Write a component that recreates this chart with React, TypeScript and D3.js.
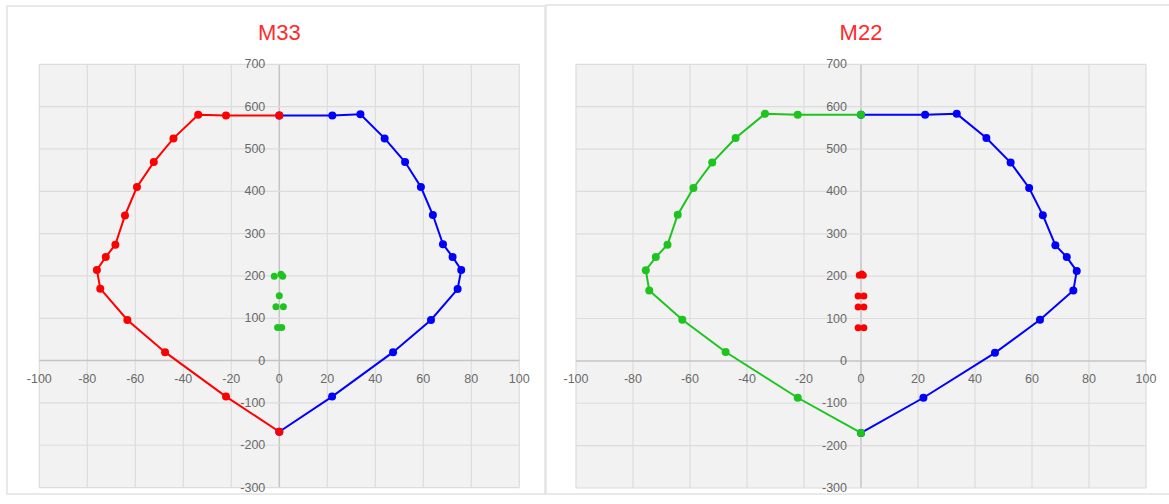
import React, { useEffect, useRef } from "react";
import * as d3 from "d3";

const xTicks = [-100, -80, -60, -40, -20, 0, 20, 40, 60, 80, 100];
const yTicks = [-300, -200, -100, 0, 100, 200, 300, 400, 500, 600, 700];

// M33 chart
const m33NegX = [0, -22.2, -33.8, -44.1, -52.3, -59.3, -64.3, -68.3, -72.3, -76, -74.6, -63.3, -47.6, -22.2, 0];
const m33NegY = [579, 579, 581, 525, 469, 410, 343, 274, 245, 214, 170, 96, 20, -85, -168];
const m33PosX = [0, 22, 47.4, 63.2, 74.3, 75.8, 72.2, 68.2, 64, 59, 52.4, 43.9, 33.8, 22.1, 0];
const m33PosY = [-168, -85, 20, 96, 169, 214, 245, 275, 344, 410, 469, 525, 582, 579, 579];
const m33LoadX = [-2.1, 0.7, 1.4, 0, -1.4, 1.7, -0.7, 1];
const m33LoadY = [199, 204, 199, 153, 127, 127, 78, 78];

// M22 chart
const m22NegX = [0, -22.2, -33.7, -44, -52.2, -58.8, -64.3, -67.9, -72, -75.5, -74.3, -62.7, -47.5, -22.2, 0];
const m22NegY = [581, 581, 583, 526, 468, 408, 345, 274, 245, 214, 166, 97, 21, -87, -170];
const m22PosX = [0, 21.9, 47, 62.8, 74.5, 75.7, 72.2, 68.2, 63.8, 59, 52.5, 44, 33.6, 22.5, 0];
const m22PosY = [-170, -87, 19, 97, 166, 212, 245, 273, 344, 408, 468, 526, 583, 581, 581];
const m22LoadX = [-0.6, 0.3, 0.8, -1, 1, -1, 1, -1, 1];
const m22LoadY = [202, 205, 202, 153, 153, 127, 127, 78, 78];

const zip = (xs: number[], ys: number[]) => xs.map((x, i) => [x, ys[i]] as [number, number]);

function drawChart(svg: any, cfg: any) {
  const g = svg.append("g");

  g.append("rect")
    .attr("x", cfg.panel[0]).attr("y", cfg.panel[1])
    .attr("width", cfg.panel[2]).attr("height", cfg.panel[3])
    .attr("fill", "#fff").attr("stroke", "#e2e2e2").attr("stroke-width", 1.5);

  const x = d3.scaleLinear().domain([-100, 100]).range([cfg.left, cfg.right]);
  const y = d3.scaleLinear().domain([-300, 700]).range([cfg.bottom, cfg.top]);

  g.append("rect")
    .attr("x", cfg.left).attr("y", cfg.top)
    .attr("width", cfg.right - cfg.left).attr("height", cfg.bottom - cfg.top)
    .attr("fill", "#f2f2f2");

  g.selectAll(".vgrid").data(xTicks).enter().append("line")
    .attr("x1", (d) => x(d)).attr("x2", (d) => x(d))
    .attr("y1", cfg.top).attr("y2", cfg.bottom)
    .attr("stroke", (d) => (d === 0 ? "#c4c4c4" : "#dcdcdc"))
    .attr("stroke-width", (d) => (d === 0 ? 1.5 : 1.2));

  g.selectAll(".hgrid").data(yTicks).enter().append("line")
    .attr("x1", cfg.left).attr("x2", cfg.right)
    .attr("y1", (d) => y(d)).attr("y2", (d) => y(d))
    .attr("stroke", (d) => (d === 0 ? "#c4c4c4" : "#dcdcdc"))
    .attr("stroke-width", (d) => (d === 0 ? 1.5 : 1.2));

  const font = "'Liberation Sans', Arial, sans-serif";

  g.selectAll(".ylab").data(yTicks).enter().append("text")
    .attr("x", x(0) - 14).attr("y", (d) => y(d) + 4)
    .attr("text-anchor", "end")
    .attr("font-family", font).attr("font-size", 12.5).attr("fill", "#6a6a6a")
    .text((d) => d);

  g.selectAll(".xlab").data(xTicks).enter().append("text")
    .attr("x", (d) => x(d)).attr("y", y(0) + 22)
    .attr("text-anchor", "middle")
    .attr("font-family", font).attr("font-size", 12.5).attr("fill", "#6a6a6a")
    .text((d) => d);

  g.append("text")
    .attr("x", x(0)).attr("y", 40)
    .attr("text-anchor", "middle")
    .attr("font-family", font).attr("font-size", 22).attr("fill", "#ff2a2a")
    .text(cfg.title);

  const line = d3.line().x((d: any) => x(d[0])).y((d: any) => y(d[1]));

  cfg.series.forEach((s: any) => {
    const pts = zip(s.xs, s.ys);
    g.append("path").datum(pts)
      .attr("d", line as any)
      .attr("fill", "none").attr("stroke", s.color).attr("stroke-width", 2);
    g.selectAll(null).data(pts).enter().append("circle")
      .attr("cx", (d) => x(d[0])).attr("cy", (d) => y(d[1]))
      .attr("r", 4).attr("fill", s.color);
  });

  g.selectAll(null).data(zip(cfg.load.xs, cfg.load.ys)).enter().append("circle")
    .attr("cx", (d: any) => x(d[0])).attr("cy", (d: any) => y(d[1]))
    .attr("r", 3.5).attr("fill", cfg.load.color);
}

function App() {
  const svgRef = useRef<SVGSVGElement>(null);

  useEffect(() => {
    const svg = d3.select(svgRef.current);
    svg.selectAll("*").remove();

    drawChart(svg, {
      title: "M33",
      panel: [7, 6, 538, 488],
      left: 39.3, right: 519.3, top: 64.3, bottom: 487.6,
      series: [
        { xs: m33PosX, ys: m33PosY, color: "#0000ff" },
        { xs: m33NegX, ys: m33NegY, color: "#ff0000" },
      ],
      load: { xs: m33LoadX, ys: m33LoadY, color: "#1ec41e" },
    });

    drawChart(svg, {
      title: "M22",
      panel: [546, 5, 630, 489],
      left: 576, right: 1146, top: 64.3, bottom: 488,
      series: [
        { xs: m22PosX, ys: m22PosY, color: "#0000ff" },
        { xs: m22NegX, ys: m22NegY, color: "#1ec41e" },
      ],
      load: { xs: m22LoadX, ys: m22LoadY, color: "#ff0000" },
    });
  }, []);

  return (
    <svg
      ref={svgRef}
      width={1169}
      height={504}
      style={{ position: "absolute", left: 0, top: 0, background: "#fff" }}
    />
  );
}

export default App;
